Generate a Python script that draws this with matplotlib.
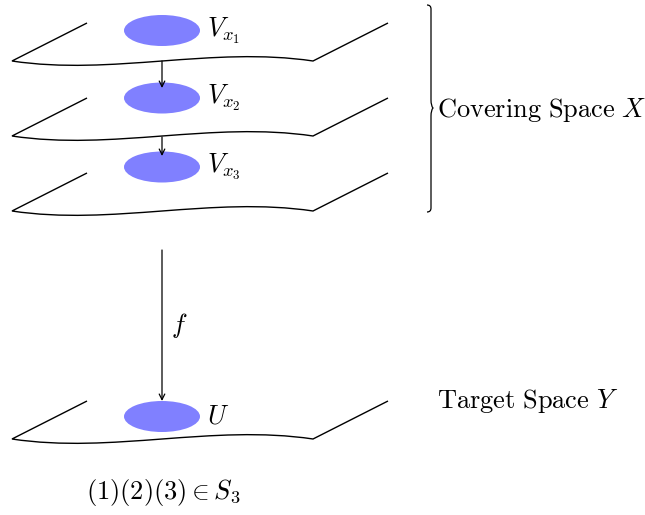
import numpy as np
import matplotlib as mpl
mpl.use('Agg')
import matplotlib.pyplot as plt
from matplotlib.patches import Ellipse, PathPatch
from matplotlib.path import Path

plt.rcParams['mathtext.fontset'] = 'cm'

# sheets (y of front-left corner), blobs, labels
sheet_y = [61, 136, 211, 439]
blob_y = [30.5, 98, 167, 416.5]
blob_labels = [r'$V_{x_1}$', r'$V_{x_2}$', r'$V_{x_3}$', r'$U$']
arrows = [(61, 88), (137, 156), (250, 401)]
side_labels = [r'$\mathrm{Covering\ Space}\ X$', r'$\mathrm{Target\ Space}\ Y$']
side_y = [110, 401]
perm_label = r'$(1)(2)(3) \in S_3$'

fig = plt.figure(figsize=(6.45, 5.15), dpi=100)
ax = fig.add_axes([0, 0, 1, 1])
ax.set_xlim(0, 645)
ax.set_ylim(515, 0)
ax.axis('off')


def sheet(y0):
    verts = [(87, y0 - 38), (12, y0),
             (112, y0 + 15), (212, y0 - 15), (313, y0),
             (388, y0 - 38)]
    codes = [Path.MOVETO, Path.LINETO,
             Path.CURVE4, Path.CURVE4, Path.CURVE4,
             Path.LINETO]
    ax.add_patch(PathPatch(Path(verts, codes), fc='none', ec='black', lw=1.0))


for y in sheet_y:
    sheet(y)

for y, lab in zip(blob_y, blob_labels):
    ax.add_patch(Ellipse((162, y), 76, 31, fc='#8080ff', ec='none'))
    ax.text(207, y, lab, fontsize=19, va='center', ha='left')

for a, b in arrows:
    ax.annotate('', xy=(162, b), xytext=(162, a),
                arrowprops=dict(arrowstyle='->', lw=0.9, color='black',
                                shrinkA=0, shrinkB=0, mutation_scale=10))

ax.text(179, 326, r'$f$', fontsize=19, va='center', ha='center')

# curly brace
bx, top, bot, mid = 427, 5, 212, 108
brace = [(bx, top), (bx + 4, top), (bx + 4, top + 4), (bx + 4, top + 10),
         (bx + 4, mid - 8), (bx + 4, mid - 2), (bx + 6, mid),
         (bx + 4, mid + 2), (bx + 4, mid + 8),
         (bx + 4, bot - 10), (bx + 4, bot - 4), (bx + 4, bot), (bx, bot)]
codes = [Path.MOVETO, Path.CURVE3, Path.CURVE3, Path.LINETO,
         Path.LINETO, Path.CURVE3, Path.CURVE3,
         Path.CURVE3, Path.CURVE3,
         Path.LINETO, Path.LINETO, Path.CURVE3, Path.CURVE3]
ax.add_patch(PathPatch(Path(brace, codes), fc='none', ec='black', lw=0.9))

for y, lab in zip(side_y, side_labels):
    ax.text(437, y, lab, fontsize=19, va='center', ha='left')

ax.text(163, 493, perm_label, fontsize=19, va='center', ha='center')

fig.savefig('out.png', dpi=100)
